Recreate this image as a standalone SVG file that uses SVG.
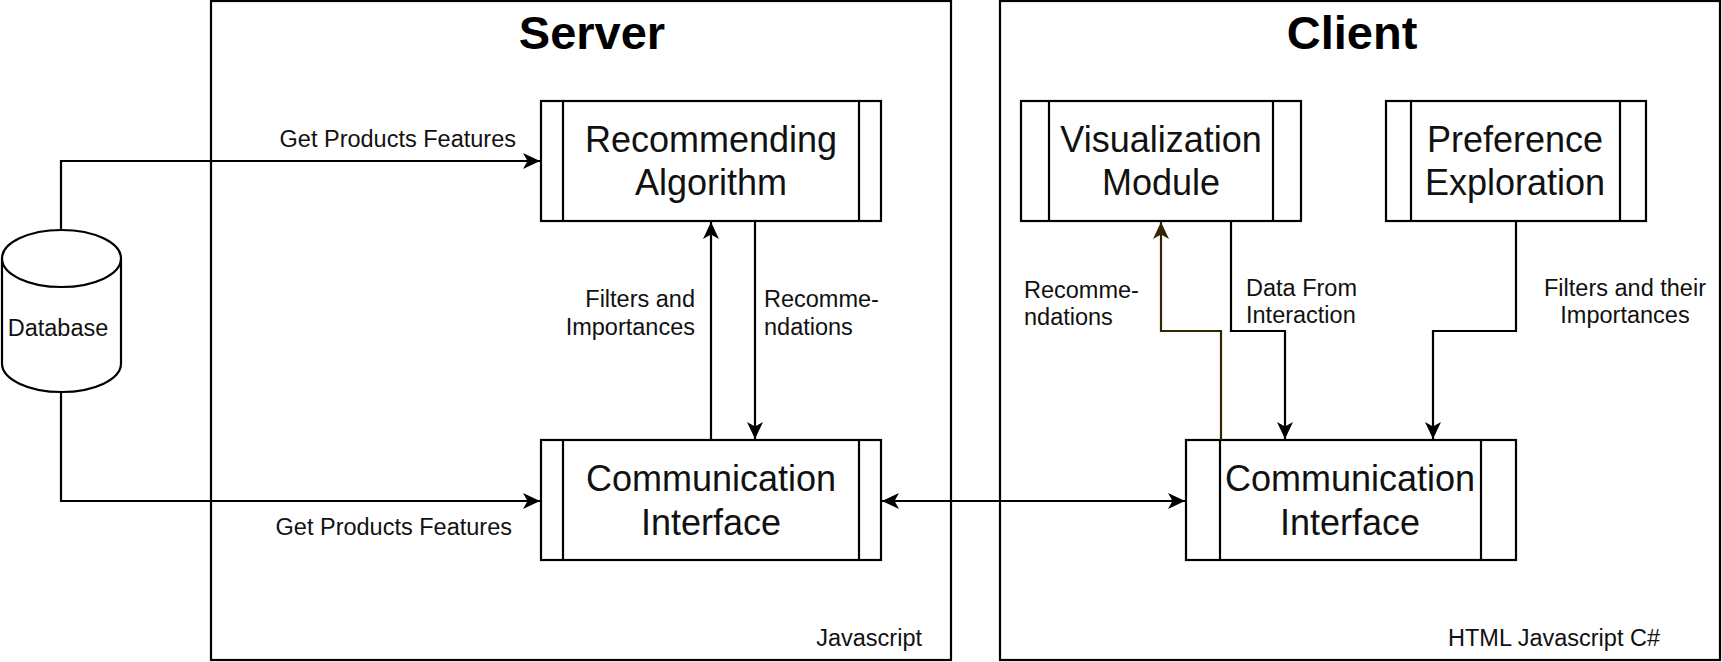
<svg xmlns="http://www.w3.org/2000/svg" width="1722" height="662" viewBox="0 0 1722 662">
<style>
.c{fill:#fff;stroke:#000;stroke-width:2.2}
.b{fill:#fff;stroke:#000;stroke-width:2.2}
.t{font-family:"Liberation Sans",Arial,sans-serif;fill:#000}
.title{font-size:47px;font-weight:bold;text-anchor:middle}
.bx{font-size:36px;text-anchor:middle;fill:#111}
.lb{font-size:23.5px;fill:#111}
.ln{fill:none;stroke:#000;stroke-width:2.2}
</style>
<defs>
<marker id="ah" markerUnits="userSpaceOnUse" markerWidth="18" markerHeight="18" refX="17" refY="8" orient="auto" overflow="visible">
<path d="M0,0 L17,8 L0,16 L4.5,8 Z" fill="#000"/>
</marker>
<marker id="ahs" markerUnits="userSpaceOnUse" markerWidth="18" markerHeight="18" refX="0" refY="8" orient="auto" overflow="visible">
<path d="M17,0 L0,8 L17,16 L12.5,8 Z" fill="#000"/>
</marker>
<marker id="ahb" markerUnits="userSpaceOnUse" markerWidth="18" markerHeight="18" refX="17" refY="8" orient="auto" overflow="visible">
<path d="M0,0 L17,8 L0,16 L4.5,8 Z" fill="#332600"/>
</marker>
</defs>

<g id="server">
<rect class="c" x="211" y="1" width="740" height="659"/>
<text class="t title" x="592" y="49">Server</text>
<text class="t lb" x="922" y="646" text-anchor="end">Javascript</text>
</g>
<g id="client">
<rect class="c" x="1000" y="1" width="720" height="659"/>
<text class="t title" x="1352" y="49">Client</text>
<text class="t lb" x="1660" y="646" text-anchor="end">HTML Javascript C#</text>
</g>

<g id="database">
<path class="b" d="M2,258.5 A59.5,28.5 0 0 1 121,258.5 L121,363.5 A59.5,28.5 0 0 1 2,363.5 Z"/>
<path class="ln" d="M2,258.5 A59.5,28.5 0 0 0 121,258.5"/>
<text class="t lb" x="58" y="336" text-anchor="middle">Database</text>
</g>

<g id="recommending-algorithm">
<rect class="b" x="541" y="101" width="340" height="120"/>
<line class="ln" x1="563" y1="101" x2="563" y2="221"/>
<line class="ln" x1="859" y1="101" x2="859" y2="221"/>
<text class="t bx" x="711" y="152">Recommending</text>
<text class="t bx" x="711" y="195">Algorithm</text>
</g>

<g id="server-communication-interface">
<rect class="b" x="541" y="440" width="340" height="120"/>
<line class="ln" x1="563" y1="440" x2="563" y2="560"/>
<line class="ln" x1="859" y1="440" x2="859" y2="560"/>
<text class="t bx" x="711" y="491">Communication</text>
<text class="t bx" x="711" y="535">Interface</text>
</g>

<g id="visualization-module">
<rect class="b" x="1021" y="101" width="280" height="120"/>
<line class="ln" x1="1049" y1="101" x2="1049" y2="221"/>
<line class="ln" x1="1273" y1="101" x2="1273" y2="221"/>
<text class="t bx" x="1161" y="152">Visualization</text>
<text class="t bx" x="1161" y="195">Module</text>
</g>

<g id="preference-exploration">
<rect class="b" x="1386" y="101" width="260" height="120"/>
<line class="ln" x1="1411" y1="101" x2="1411" y2="221"/>
<line class="ln" x1="1620" y1="101" x2="1620" y2="221"/>
<text class="t bx" x="1515" y="152">Preference</text>
<text class="t bx" x="1515" y="195">Exploration</text>
</g>

<g id="client-communication-interface">
<rect class="b" x="1186" y="440" width="330" height="120"/>
<line class="ln" x1="1220" y1="440" x2="1220" y2="560"/>
<line class="ln" x1="1481" y1="440" x2="1481" y2="560"/>
<text class="t bx" x="1350" y="491">Communication</text>
<text class="t bx" x="1350" y="535">Interface</text>
</g>

<g id="connectors">
<path class="ln" d="M61,230 L61,161 L540,161" marker-end="url(#ah)"/>
<text class="t lb" x="516" y="147" text-anchor="end">Get Products Features</text>
<path class="ln" d="M61,392 L61,501 L540,501" marker-end="url(#ah)"/>
<text class="t lb" x="512" y="535" text-anchor="end">Get Products Features</text>

<path class="ln" d="M711,440 L711,222" marker-end="url(#ah)"/>
<text class="t lb" x="695" y="307" text-anchor="end">Filters and</text>
<text class="t lb" x="695" y="335" text-anchor="end">Importances</text>
<path class="ln" d="M755,221 L755,439" marker-end="url(#ah)"/>
<text class="t lb" x="764" y="307">Recomme-</text>
<text class="t lb" x="764" y="335">ndations</text>

<path class="ln" d="M882,501 L1185,501" marker-start="url(#ahs)" marker-end="url(#ah)"/>

<path d="M1221,440 L1221,331 L1161,331 L1161,222" fill="none" stroke="#332600" stroke-width="2.2" marker-end="url(#ahb)"/>
<text class="t lb" x="1024" y="298">Recomme-</text>
<text class="t lb" x="1024" y="325">ndations</text>

<path class="ln" d="M1231,221 L1231,331 L1285,331 L1285,439" marker-end="url(#ah)"/>
<text class="t lb" x="1246" y="296">Data From</text>
<text class="t lb" x="1246" y="323">Interaction</text>

<path class="ln" d="M1516,221 L1516,331 L1433,331 L1433,439" marker-end="url(#ah)"/>
<text class="t lb" x="1625" y="296" text-anchor="middle">Filters and their</text>
<text class="t lb" x="1625" y="323" text-anchor="middle">Importances</text>
</g>
</svg>
